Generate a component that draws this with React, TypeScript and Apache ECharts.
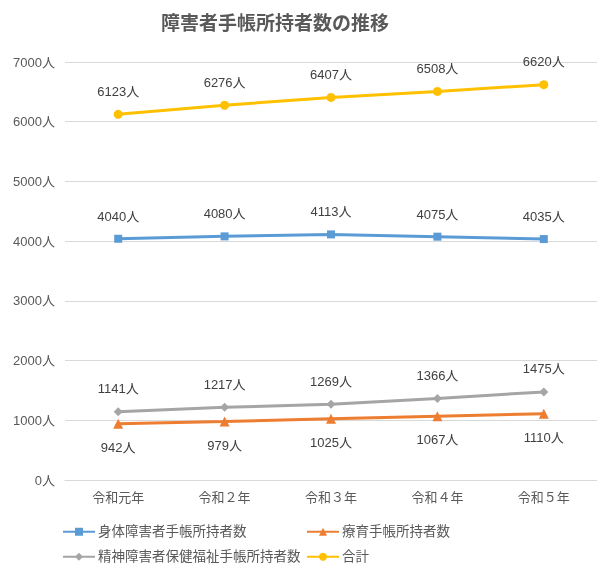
import React, { useEffect, useRef } from "react";
import * as echarts from "echarts";

const categories = ["令和元年", "令和２年", "令和３年", "令和４年", "令和５年"];
const seriesNames = ["身体障害者手帳所持者数", "療育手帳所持者数", "精神障害者保健福祉手帳所持者数", "合計"];
const physical = [4040, 4080, 4113, 4075, 4035];
const ryoiku = [942, 979, 1025, 1067, 1110];
const mental = [1141, 1217, 1269, 1366, 1475];
const total = [6123, 6276, 6407, 6508, 6620];
const colors = ["#5B9BD5", "#ED7D31", "#A5A5A5", "#FFC000"];
const symbols = ["rect", "triangle", "diamond", "circle"];
const symbolSizes = [8, 10, 9, 9];
const labelPos = ["top", "bottom", "top", "top"];

const FONT = "'Liberation Sans', 'Noto Sans CJK JP', sans-serif";

export default function App() {
  const ref = useRef<HTMLDivElement>(null);
  useEffect(() => {
    const chart = echarts.init(ref.current!, null, { renderer: "svg" });
    const data = [physical, ryoiku, mental, total];
    chart.setOption({
      animation: false,
      textStyle: { fontFamily: FONT },
      title: {
        text: "障害者手帳所持者数の推移",
        left: 270,
        textAlign: "center",
        top: 9,
        textStyle: { fontSize: 19, fontWeight: "bold", color: "#595959", fontFamily: FONT },
      },
      grid: { left: 65, top: 62, width: 536, height: 418, containLabel: false },
      xAxis: {
        type: "category",
        data: categories,
        axisLine: { lineStyle: { color: "#D9D9D9", width: 1 } },
        axisTick: { show: false },
        axisLabel: { color: "#595959", fontSize: 13, margin: 11 },
      },
      yAxis: {
        type: "value",
        min: 0,
        max: 7000,
        interval: 1000,
        axisLabel: {
          color: "#595959",
          fontSize: 13,
          margin: 10,
          formatter: (v: number) => `${v}人`,
        },
        splitLine: { lineStyle: { color: "#D9D9D9", width: 1 } },
        axisLine: { show: false },
        axisTick: { show: false },
      },
      legend: seriesNames.map((n, i) => ({
        data: [n],
        left: i % 2 === 0 ? 57 : 301,
        top: i < 2 ? 520 : 545,
        itemWidth: 32,
        itemHeight: 10,
        itemGap: 2,
        textStyle: { color: "#595959", fontSize: 13.5, fontFamily: FONT, padding: [0, 0, 0, -2] },
        selectedMode: false,
      })),
      series: seriesNames.map((n, i) => ({
        name: n,
        type: "line",
        data: data[i],
        color: colors[i],
        symbol: symbols[i],
        symbolSize: symbolSizes[i],
        lineStyle: { width: 3, color: colors[i] },
        itemStyle: { color: colors[i] },
        label: {
          show: true,
          position: labelPos[i],
          distance: 12,
          formatter: (p: any) => `${p.value}人`,
          color: "#404040",
          fontSize: 13,
          fontWeight: "normal",
        },
      })),
    });
    return () => chart.dispose();
  }, []);
  return <div ref={ref} style={{ position: "fixed", left: 0, top: 0, width: 597, height: 564 }} />;
}
